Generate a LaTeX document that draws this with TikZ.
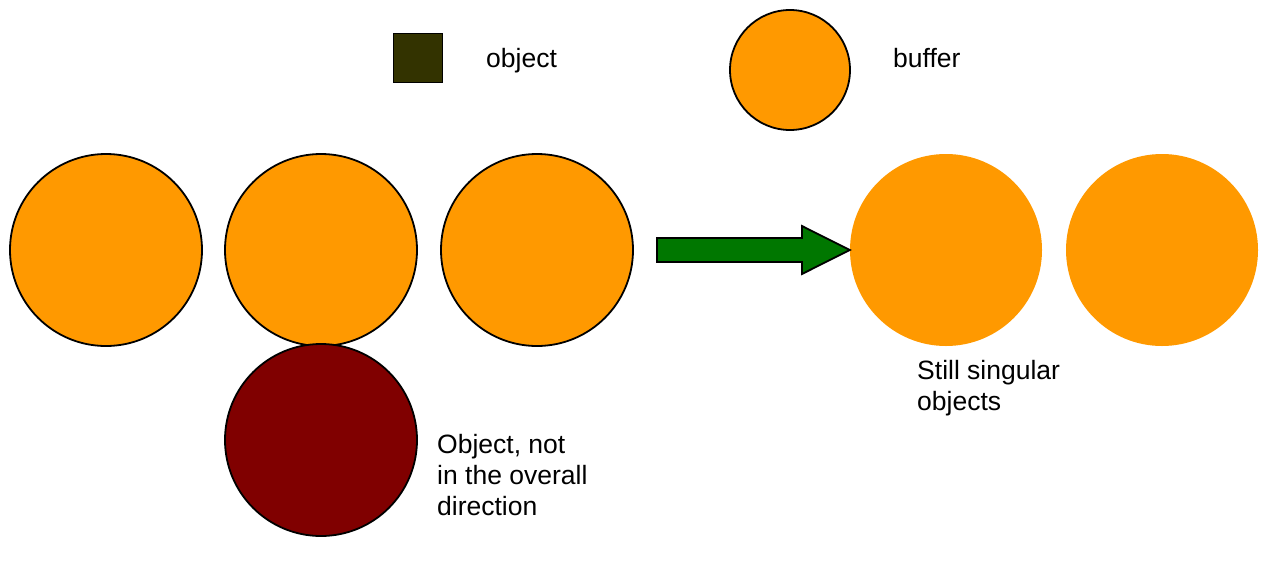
\documentclass[tikz,border=0pt]{standalone}
\usepackage{fontspec}
\setmainfont{Liberation Sans}
\definecolor{bufferorange}{HTML}{FF9900}
\definecolor{objolive}{HTML}{333300}
\definecolor{objred}{HTML}{800000}
\definecolor{arrowgreen}{HTML}{007700}
\begin{document}
\begin{tikzpicture}[x=1pt,y=-1pt,
  buf/.style={circle,fill=bufferorange,draw=black,line width=1.8pt,minimum size=192pt,inner sep=0pt},
  bufplain/.style={circle,fill=bufferorange,minimum size=192pt,inner sep=0pt},
  lbl/.style={anchor=base west,inner sep=0pt,align=left,font=\fontsize{26.5}{31}\selectfont}]
\useasboundingbox (0,0) rectangle (1268,563);
% legend
\node[draw=black,line width=1.8pt,fill=objolive,minimum size=49pt,inner sep=0pt] (legobj) at (418,58) {};
\node[lbl] (legobjtxt) at (486,67) {object};
\node[buf,minimum size=120pt] (legbuf) at (790,70) {};
\node[lbl] (legbuftxt) at (893,67) {buffer};
% left group
\node[buf] (b1) at (106,250) {};
\node[buf] (b2) at (321,250) {};
\node[buf] (b3) at (537,250) {};
\node[circle,fill=objred,draw=black,line width=1.8pt,minimum size=192pt,inner sep=0pt] (obj) at (321,440) {};
\node[lbl] (objtxt) at (437,515) {Object, not\\in the overall\\direction};
% right group
\node[bufplain] (r1) at (946,250) {};
\node[bufplain] (r2) at (1162,250) {};
\node[lbl] (rtxt) at (917,410) {Still singular\\objects};
% arrow
\draw[fill=arrowgreen,draw=black,line width=1.8pt,line join=miter]
  (657,238) -- (802,238) -- (802,226) -- (r1.west) -- (802,274) -- (802,262) -- (657,262) -- cycle;
\end{tikzpicture}
\end{document}
